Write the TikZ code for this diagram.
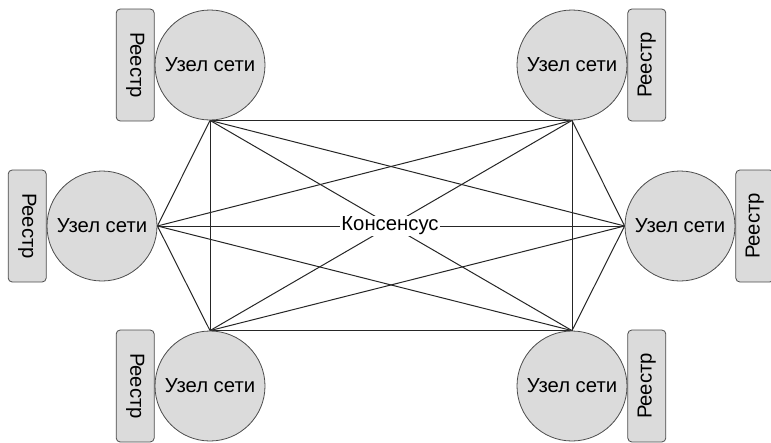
\documentclass[tikz,border=0pt]{standalone}
\usepackage{fontspec}
\setmainfont{Liberation Sans}
\usetikzlibrary{positioning, calc, backgrounds}

\begin{document}
\begin{tikzpicture}[x=1pt, y=-1pt,
        every node/.style={font=\fontsize{20.3}{23}\selectfont},
        uzel/.style={circle, draw=black!70, line width=0.8pt, fill=black!14, minimum size=110pt, inner sep=0pt},
        reestr/.style={draw=black!70, line width=0.8pt, fill=black!14, rounded corners=4pt, minimum width=38pt, minimum height=112pt, inner sep=0pt},
        svyaz/.style={black!85, line width=1pt}]
            \useasboundingbox (0,0) rectangle (771,442);

            % network nodes
            \node[uzel] (tl) at (210,65)  {Узел сети};
            \node[uzel] (tr) at (572,65)  {Узел сети};
            \node[uzel] (l)  at (102,226) {Узел сети};
            \node[uzel] (r)  at (680,226) {Узел сети};
            \node[uzel] (bl) at (210,386) {Узел сети};
            \node[uzel] (br) at (572,386) {Узел сети};

            % registries
            \node[reestr, left=0pt of tl]  (tlreg) {\rotatebox{-90}{Реестр}};
            \node[reestr, right=0pt of tr] (trreg) {\rotatebox{90}{Реестр}};
            \node[reestr, left=0pt of l]   (lreg)  {\rotatebox{-90}{Реестр}};
            \node[reestr, right=0pt of r]  (rreg)  {\rotatebox{90}{Реестр}};
            \node[reestr, left=0pt of bl]  (blreg) {\rotatebox{-90}{Реестр}};
            \node[reestr, right=0pt of br] (brreg) {\rotatebox{90}{Реестр}};

            \node[fill=white, inner sep=1pt] (cons) at (390,226) {Консенсус};

            % all-to-all links, behind the label
            \begin{scope}[on background layer]
            \draw[svyaz] (tl.south) -- (tr.south);
            \draw[svyaz] (tl.south) -- (bl.north);
            \draw[svyaz] (tl.south) -- (br.north);
            \draw[svyaz] (tl.south) -- (l.east);
            \draw[svyaz] (tl.south) -- (r.west);
            \draw[svyaz] (tr.south) -- (br.north);
            \draw[svyaz] (tr.south) -- (bl.north);
            \draw[svyaz] (tr.south) -- (l.east);
            \draw[svyaz] (tr.south) -- (r.west);
            \draw[svyaz] (l.east) -- (cons.west);
            \draw[svyaz] (cons.east) -- (r.west);
            \draw[svyaz] (l.east) -- (bl.north);
            \draw[svyaz] (l.east) -- (br.north);
            \draw[svyaz] (r.west) -- (bl.north);
            \draw[svyaz] (r.west) -- (br.north);
            \draw[svyaz] (bl.north) -- (br.north);
            \end{scope}
        \end{tikzpicture}
\end{document}
